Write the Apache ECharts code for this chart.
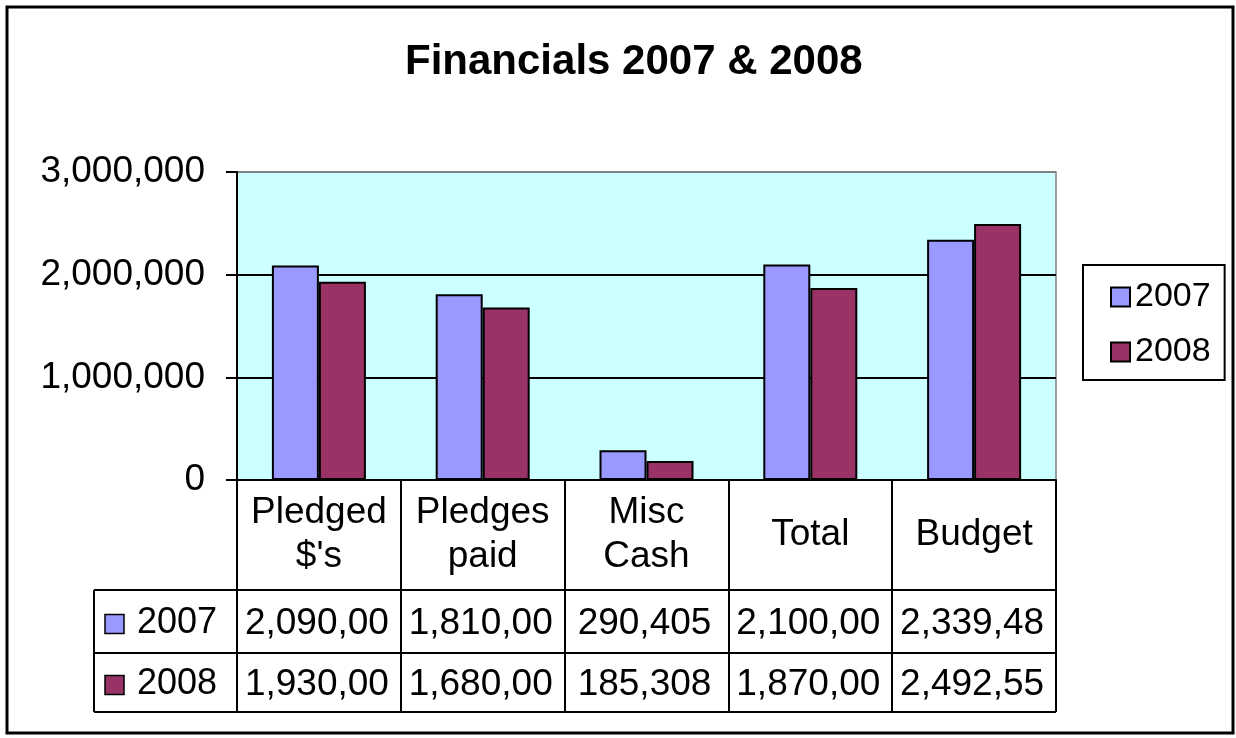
<!DOCTYPE html>
<html>
<head>
<meta charset="utf-8">
<script src="https://cdn.jsdelivr.net/npm/echarts@6/dist/echarts.min.js"></script>
<style>
    html, body { margin: 0; padding: 0; background: #fff; }
    #chart { width: 1236px; height: 738px; }
</style>
</head>
<body>
<div id="chart"></div>
<script>
// categories (table header)
const categories = ['Pledged\n$\'s', 'Pledges\npaid', 'Misc\nCash', 'Total', 'Budget']
const seriesNames = ['2007', '2008']
// values per year
const values2007 = [2090000, 1810000, 290405, 2100000, 2339480]
const values2008 = [1930000, 1680000, 185308, 1870000, 2492550]
const yTicks = [0, 1000000, 2000000, 3000000]
const colors = ['#9999FF', '#993366']

const font = '"Liberation Sans", Arial, sans-serif'
const fmt = v => v.toLocaleString('en-US')
// the data table cells are narrow, long numbers get cut off
const cellText = v => fmt(v).slice(0, 8)

let myChart = echarts.init(document.getElementById('chart'), null, { renderer: 'canvas' })

myChart.setOption({
    animation: false,
    backgroundColor: '#ffffff',
    textStyle: { fontFamily: font },
    title: {
        text: 'Financials 2007 & 2008',
        left: 400,
        top: 36,
        textStyle: { fontSize: 42, fontWeight: 'bold', color: '#000', fontFamily: font }
    },
    legend: {
        data: seriesNames,
        orient: 'vertical',
        left: 1083,
        top: 265,
        padding: [14, 14, 10, 27],
        borderColor: '#000',
        borderWidth: 2,
        itemWidth: 19,
        itemHeight: 19,
        itemGap: 19,
        itemTextGap: 13,
        icon: 'rect',
        textStyle: { fontSize: 34, color: '#000', lineHeight: 36, fontFamily: font }
    },
    grid: { // 图表区
        left: 237,
        right: 180,
        top: 172,
        bottom: 258,
        show: true,
        backgroundColor: '#CCFFFF',
        borderColor: '#808080',
        borderWidth: 1.5
    },
    xAxis: {
        type: 'category',
        data: categories,
        axisLine: { lineStyle: { color: '#000', width: 2 } },
        axisTick: { // 表格竖线
            show: true,
            interval: 0,
            length: 232,
            lineStyle: { color: '#000', width: 2 }
        },
        axisLabel: {
            interval: 0,
            margin: 55,
            verticalAlign: 'middle',
            fontSize: 37,
            lineHeight: 44,
            color: '#000',
            fontFamily: font
        }
    },
    yAxis: {
        type: 'value',
        min: yTicks[0],
        max: yTicks[yTicks.length - 1],
        interval: yTicks[1] - yTicks[0],
        axisLine: { show: true, lineStyle: { color: '#000', width: 2 } },
        axisTick: { show: true, length: 11, lineStyle: { color: '#000', width: 2 } },
        axisLabel: {
            margin: 32,
            fontSize: 37,
            color: '#000',
            fontFamily: font,
            formatter: v => fmt(v)
        },
        splitLine: {
            show: true,
            lineStyle: { color: ['#000', '#000', '#000', '#808080'], width: 2 }
        }
    },
    series: [
        {
            name: seriesNames[0],
            type: 'bar',
            data: values2007,
            barWidth: 47,
            barGap: '0%',
            itemStyle: { color: colors[0], borderColor: '#000', borderWidth: 2 }
        },
        {
            name: seriesNames[1],
            type: 'bar',
            data: values2008,
            barWidth: 47,
            barGap: '0%',
            itemStyle: { color: colors[1], borderColor: '#000', borderWidth: 2 }
        }
    ]
})

// 数据表 (data table under the axis)
const xLeft = 94
const axisY = myChart.convertToPixel({ yAxisIndex: 0 }, 0)
const rowTops = [axisY + 110, axisY + 173, axisY + 232]
const rightEdge = 1056
const rows = [values2007, values2008]

const graphic = [{
    type: 'rect',
    shape: { x: 7, y: 7, width: 1226, height: 726 },
    style: { fill: 'none', stroke: '#000', lineWidth: 3 }
}]
rowTops.forEach(y => {
    graphic.push({
        type: 'line',
        shape: { x1: xLeft, y1: y, x2: rightEdge, y2: y },
        style: { stroke: '#000', lineWidth: 2 }
    })
})
graphic.push({
    type: 'line',
    shape: { x1: xLeft, y1: rowTops[0], x2: xLeft, y2: rowTops[2] },
    style: { stroke: '#000', lineWidth: 2 }
})
rows.forEach((vals, r) => {
    const cy = (rowTops[r] + rowTops[r + 1]) / 2 + 2
    graphic.push({
        type: 'rect',
        shape: { x: 105, y: cy - 9, width: 19, height: 19 },
        style: { fill: colors[r], stroke: '#000', lineWidth: 1.5 }
    })
    graphic.push({
        type: 'text',
        style: {
            x: 137, y: cy, text: seriesNames[r],
            font: '36px ' + font, fill: '#000',
            textAlign: 'left', textVerticalAlign: 'middle'
        }
    })
    vals.forEach((v, i) => {
        const cx = myChart.convertToPixel({ xAxisIndex: 0 }, i)
        graphic.push({
            type: 'text',
            style: {
                x: cx - 2, y: cy, text: cellText(v),
                font: '37px ' + font, fill: '#000',
                textAlign: 'center', textVerticalAlign: 'middle'
            }
        })
    })
})

myChart.setOption({ graphic: graphic })
</script>
</body>
</html>
